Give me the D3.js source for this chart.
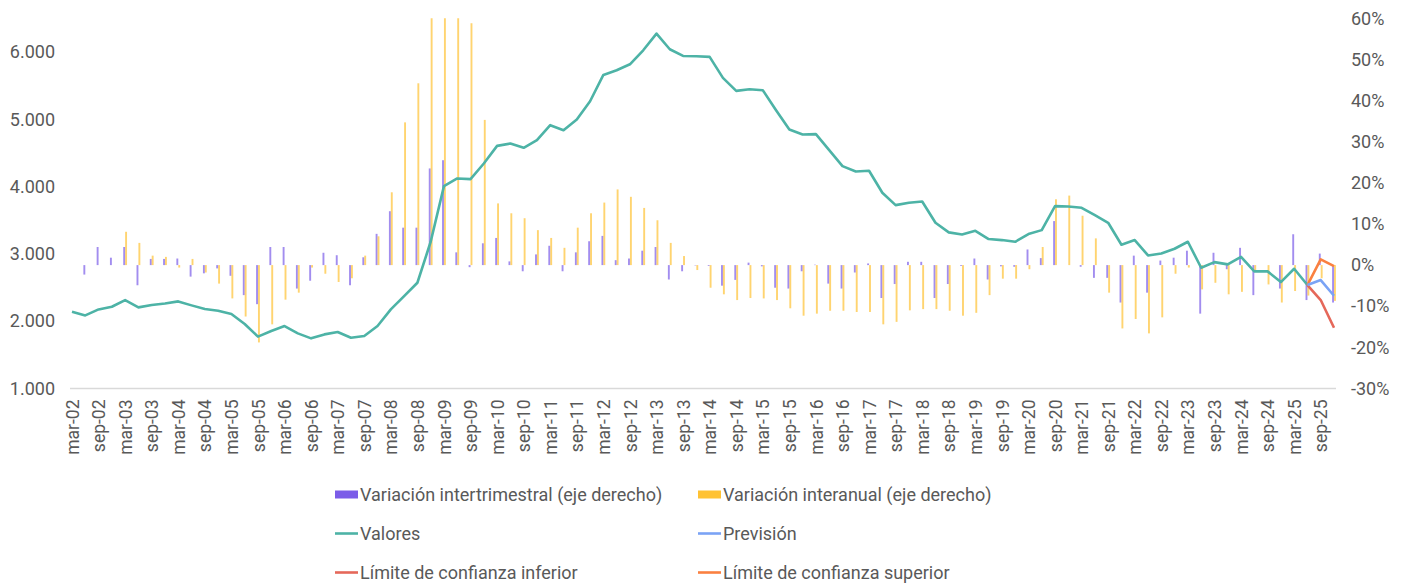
<!DOCTYPE html>
<html>
<head>
<meta charset="utf-8">
<script src="https://d3js.org/d3.v7.min.js"></script>
<style>
  body { margin: 0; background: #fff; }
  svg text { font-family: Roboto, "Liberation Sans", sans-serif; fill: #595959; }
</style>
</head>
<body>
<svg id="chart" width="1410" height="585"></svg>
<script>
// quarters mar-02 .. dic-25
const years = d3.range(2, 26);
const months = ["mar", "jun", "sep", "dic"];
const categories = [];
years.forEach(y => months.forEach(m => categories.push(m + "-" + String(y).padStart(2, "0"))));

// Valores (left axis), mar-02 .. jun-25
const valores = [2141,2086,2175,2215,2314,2205,2240,2264,2294,2235,
  2180,2155,2106,1958,1770,1854,1928,1819,1745,1804,
  1839,1755,1780,1928,2175,2373,2571,3180,4006,4120,
  4110,4343,4605,4640,4576,4690,4912,4838,4996,5268,
  5659,5728,5817,6025,6273,6040,5941,5936,5927,5615,
  5422,5447,5432,5135,4848,4774,4779,4541,4304,4225,
  4235,3908,3724,3759,3779,3462,3319,3289,3343,3220,
  3205,3180,3294,3353,3710,3705,3685,3576,3462,3136,
  3205,2977,3007,3076,3180,2794,2878,2844,2957,2740,
  2740,2581,2779,2537];

// forecast jun-25 .. dic-25
const prevision = [2537, 2611, 2378];
const limInferior = [2537, 2314, 1903];
const limSuperior = [2537, 2918, 2819];

// variación intertrimestral (%), right axis
const varTrim = [null,-2.3,4.4,1.8,4.4,-4.9,1.5,1.5,1.6,-2.8,
  -2.0,-0.8,-2.6,-7.3,-9.5,4.4,4.4,-5.7,-3.8,3.0,
  2.4,-4.9,1.9,7.6,13.1,9.1,9.1,23.5,25.5,3.1,
  -0.5,5.3,6.6,0.9,-1.5,2.6,4.7,-1.5,3.1,5.8,
  7.1,1.2,1.6,3.5,4.4,-3.5,-1.5,-0.1,-0.2,-5.0,
  -3.6,0.6,-0.3,-5.5,-5.7,-1.5,0.1,-4.5,-5.7,-1.8,
  0.4,-8.0,-4.6,0.8,0.8,-8.0,-4.6,-0.2,1.6,-3.5,
  -0.3,-0.4,3.8,1.7,10.7,0.0,-0.4,-3.1,-3.1,-9.1,
  2.3,-6.7,1.1,1.8,3.5,-11.8,3.0,-1.0,4.2,-7.3,
  0.0,-5.7,7.5,-8.5,2.8,-9.1];

// variación interanual (%), right axis
const varAnual = [null,null,null,null,8.1,5.4,2.3,2.0,-0.6,1.5,
  -1.8,-4.5,-8.1,-12.5,-18.8,-14.4,-8.4,-6.7,-0.6,-2.1,
  -4.1,-3.2,2.3,7.0,17.7,34.7,44.2,65,84,74,
  58.8,35.3,15.0,12.6,11.4,8.5,6.6,4.2,9.1,12.6,
  15.2,18.4,16.6,13.9,10.9,5.4,2.2,-1.2,-5.5,-7.1,
  -8.5,-8.0,-8.1,-8.5,-10.5,-12.3,-11.8,-11.1,-11.1,-11.4,
  -11.4,-14.4,-13.8,-11.0,-10.7,-10.7,-11.1,-12.3,-11.6,-7.3,
  -3.3,-3.3,-1.0,4.4,16.0,16.9,12.0,6.5,-6.7,-15.4,
  -13.1,-16.6,-12.7,-2.1,-0.6,-5.9,-4.3,-7.1,-6.5,-1.5,
  -4.7,-9.1,-6.3,-7.4,-3.2,-8.7];

const leftTicks = [1000, 2000, 3000, 4000, 5000, 6000];
const rightTicks = [-30, -20, -10, 0, 10, 20, 30, 40, 50, 60];

const colors = {
  trim: "#7B5CE8", anual: "#FFC233", valores: "#4DB3A6",
  prev: "#7AA3F5", inf: "#E5685A", sup: "#FA8040"
};

const svg = d3.select("#chart");
const plotTop = 18.3, plotBottom = 388.5;

const x = d3.scalePoint(categories, [72, 1334]);
const yL = d3.scaleLinear([1000, 6500], [plotBottom, plotTop]);
const yR = d3.scaleLinear([-30, 60], [plotBottom, plotTop]);

const es = d3.formatLocale({decimal: ",", thousands: ".", grouping: [3], currency: ["", " €"]});

svg.append("defs").append("clipPath").attr("id", "plot")
  .append("rect").attr("x", 60).attr("y", plotTop).attr("width", 1290).attr("height", plotBottom - plotTop + 40);

// baseline gridline
svg.append("line")
  .attr("x1", 70).attr("x2", 1336)
  .attr("y1", yL(1000)).attr("y2", yL(1000))
  .attr("stroke", "#d9d9d9").attr("stroke-width", 1.3);

// bars
const bw = 1.9;
const bars = svg.append("g").attr("clip-path", "url(#plot)");
bars.selectAll(".trim")
  .data(categories.map((c, i) => ({c, v: varTrim[i]})).filter(d => d.v != null))
  .join("rect")
  .attr("x", d => x(d.c) - bw)
  .attr("width", bw)
  .attr("y", d => yR(Math.max(0, d.v)))
  .attr("height", d => Math.abs(yR(d.v) - yR(0)))
  .attr("fill", colors.trim).attr("opacity", 0.7);
bars.selectAll(".anual")
  .data(categories.map((c, i) => ({c, v: varAnual[i]})).filter(d => d.v != null))
  .join("rect")
  .attr("x", d => x(d.c))
  .attr("width", bw)
  .attr("y", d => yR(Math.max(0, d.v)))
  .attr("height", d => Math.abs(yR(d.v) - yR(0)))
  .attr("fill", colors.anual).attr("opacity", 0.7);

// lines
const line = d3.line().x(d => x(d.c)).y(d => yL(d.v));
const fc = categories.slice(93);
function drawLine(vals, cats, color) {
  svg.append("path")
    .datum(vals.map((v, i) => ({c: cats[i], v})))
    .attr("d", line)
    .attr("fill", "none").attr("stroke", color)
    .attr("stroke-width", 2.6).attr("stroke-linejoin", "round");
}
drawLine(valores, categories, colors.valores);
drawLine(limInferior, fc, colors.inf);
drawLine(limSuperior, fc, colors.sup);
drawLine(prevision, fc, colors.prev);

// left axis
const gl = svg.append("g").attr("transform", "translate(55,0)")
  .call(d3.axisLeft(yL).tickValues(leftTicks).tickFormat(es.format(",")).tickSize(0).tickPadding(0));
gl.select(".domain").remove();
gl.selectAll("text").style("font-size", "18px");

// right axis
const gr = svg.append("g").attr("transform", "translate(1351,0)")
  .call(d3.axisRight(yR).tickValues(rightTicks).tickFormat(d => d + "%").tickSize(0).tickPadding(0));
gr.select(".domain").remove();
gr.selectAll("text").style("font-size", "18px");

// x axis
const gx = svg.append("g").attr("transform", "translate(0," + plotBottom + ")")
  .call(d3.axisBottom(x).tickValues(categories.filter((c, i) => i % 2 === 0 && i < 95)).tickSize(0));
gx.select(".domain").remove();
gx.selectAll("text")
  .attr("transform", "rotate(-90)")
  .attr("text-anchor", "end")
  .attr("x", -11).attr("y", 0).attr("dy", "0.35em")
  .style("font-size", "17.5px");

// legend
const legend = [
  {name: "Variación intertrimestral (eje derecho)", color: colors.trim, type: "bar", col: 0, row: 0},
  {name: "Variación interanual (eje derecho)", color: colors.anual, type: "bar", col: 1, row: 0},
  {name: "Valores", color: colors.valores, type: "line", col: 0, row: 1},
  {name: "Previsión", color: colors.prev, type: "line", col: 1, row: 1},
  {name: "Límite de confianza inferior", color: colors.inf, type: "line", col: 0, row: 2},
  {name: "Límite de confianza superior", color: colors.sup, type: "line", col: 1, row: 2}
];
const lg = svg.append("g").selectAll("g").data(legend).join("g")
  .attr("transform", d => "translate(" + [335, 698][d.col] + "," + (494.5 + d.row * 39) + ")");
lg.filter(d => d.type === "bar").append("rect")
  .attr("x", 0).attr("y", -4).attr("width", 23).attr("height", 8).attr("fill", d => d.color);
lg.filter(d => d.type === "line").append("line")
  .attr("x1", 0).attr("x2", 23).attr("y1", 0).attr("y2", 0)
  .attr("stroke", d => d.color).attr("stroke-width", 2.6);
lg.append("text").attr("x", 25).attr("dy", "0.35em")
  .style("font-size", "18px").text(d => d.name);
</script>
</body>
</html>
